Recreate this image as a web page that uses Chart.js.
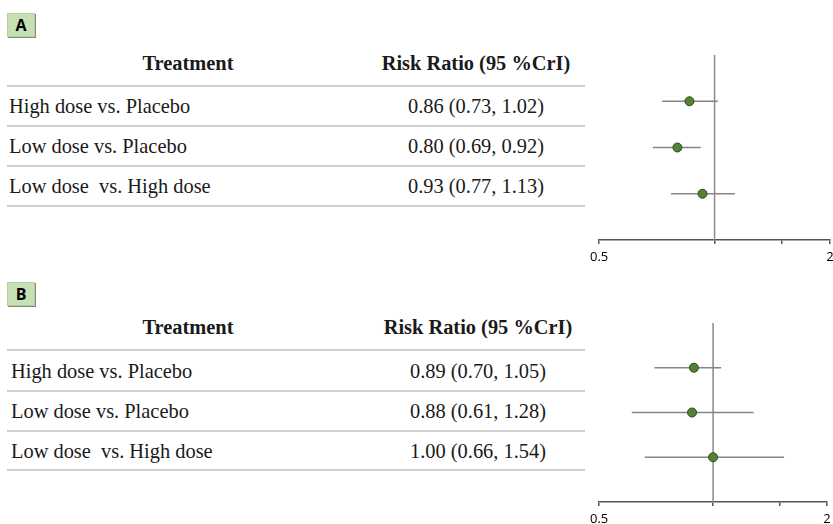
<!DOCTYPE html>
<html lang="en">
<head>
    <meta charset="UTF-8">
    <title>Risk Ratio forest plots</title>
    <script src="https://cdn.jsdelivr.net/npm/chart.js"></script>
    <style>
        * { margin: 0; padding: 0; box-sizing: border-box; }
        body {
            width: 833px;
            height: 524px;
            overflow: hidden;
            background: #fff;
            position: relative;
            font-family: "Liberation Serif", "Times New Roman", serif;
            color: #1a1a1a;
        }
        .tag {
            position: absolute;
            left: 7px;
            width: 28px;
            height: 24px;
            background: #c6e0b4;
            border: 1px solid #b4cfa2;
            box-shadow: 1px 1px 0 #7f8c77;
            font-family: "Open Sans", "Liberation Sans", sans-serif;
            font-weight: bold;
            font-size: 16px;
            text-align: center;
            line-height: 22px;
            color: #000;
        }
        .txt {
            position: absolute;
            font-size: 20.4px;
            line-height: 24px;
            white-space: pre;
        }
        .head { font-weight: bold; }
        .rule {
            position: absolute;
            left: 7px;
            width: 578px;
            height: 2px;
            background: #cfcfcf;
        }
        .plot {
            position: absolute;
            left: 585px;
            width: 255px;
        }
    </style>
</head>
<body>
    <div id="page"></div>
    <div class="plot" id="boxA" style="top:45px;height:225px"><canvas id="chartA"></canvas></div>
    <div class="plot" id="boxB" style="top:313px;height:219px"><canvas id="chartB"></canvas></div>

    <script>
        // data
        const rowLabels = ['High dose vs. Placebo', 'Low dose vs. Placebo', 'Low dose  vs. High dose'];
        const rrA = [0.86, 0.80, 0.93];
        const loA = [0.73, 0.69, 0.77];
        const hiA = [1.02, 0.92, 1.13];
        const rrB = [0.89, 0.88, 1.00];
        const loB = [0.70, 0.61, 0.66];
        const hiB = [1.05, 1.28, 1.54];
        const xTicks = [0.5, 1, 1.5, 2];
        const xTickLabels = ['0.5', '', '', '2'];
        const refLine = 1;

        const page = document.getElementById('page');

        function addText(cls, text, x, cy, align) {
            const d = document.createElement('div');
            d.className = cls;
            d.textContent = text;
            d.style.top = (cy - 12) + 'px';
            if (align === 'center') {
                d.style.left = (x - 200) + 'px';
                d.style.width = '400px';
                d.style.textAlign = 'center';
            } else {
                d.style.left = x + 'px';
            }
            page.appendChild(d);
        }

        function addRule(y) {
            const d = document.createElement('div');
            d.className = 'rule';
            d.style.top = (y - 1) + 'px';
            page.appendChild(d);
        }

        function buildTable(tag, tagTop, headY, rules, rowY, textX, colX, rr, lo, hi) {
            const t = document.createElement('div');
            t.className = 'tag';
            t.style.top = tagTop + 'px';
            t.textContent = tag;
            page.appendChild(t);

            addText('txt head', 'Treatment', 188, headY, 'center');
            addText('txt head', 'Risk Ratio (95 %CrI)', colX, headY, 'center');
            rules.forEach(addRule);
            rowLabels.forEach((lab, i) => {
                addText('txt', lab, textX, rowY[i], 'left');
                addText('txt', `${rr[i].toFixed(2)} (${lo[i].toFixed(2)}, ${hi[i].toFixed(2)})`, colX, rowY[i], 'center');
            });
        }

        buildTable('A', 13, 63, [86, 126, 166, 206], [106, 146, 186], 9, 476, rrA, loA, hiA);
        buildTable('B', 282, 327, [350, 391, 431, 470], [371, 411, 451], 11, 478, rrB, loB, hiB);

        function forest(id, rr, lo, hi, padLeft, padRight) {
            const n = rr.length;
            const datasets = [
                {
                    type: 'scatter',
                    data: rr.map((v, i) => ({ x: v, y: i + 1 })),
                    pointRadius: 4.5,
                    pointBackgroundColor: '#548235',
                    pointBorderColor: '#2f4a1c',
                    pointBorderWidth: 1,
                    order: 0
                }
            ];
            rr.forEach((v, i) => {
                datasets.push({
                    type: 'line',
                    data: [{ x: lo[i], y: i + 1 }, { x: hi[i], y: i + 1 }],
                    borderColor: '#858585',
                    borderWidth: 1.5,
                    pointRadius: 0,
                    order: 1
                });
            });
            // reference line at RR = 1
            datasets.push({
                type: 'line',
                data: [{ x: refLine, y: 0 }, { x: refLine, y: n + 1 }],
                borderColor: '#8a8a8a',
                borderWidth: 1.5,
                pointRadius: 0,
                order: 2
            });

            return new Chart(document.getElementById(id), {
                type: 'scatter',
                data: { datasets: datasets },
                options: {
                    responsive: true,
                    maintainAspectRatio: false,
                    animation: false,
                    layout: { padding: { top: 10, left: padLeft, right: padRight, bottom: 0 } },
                    plugins: { legend: { display: false }, tooltip: { enabled: false } },
                    scales: {
                        x: {
                            type: 'logarithmic',
                            min: xTicks[0],
                            max: xTicks[xTicks.length - 1],
                            afterBuildTicks: s => { s.ticks = xTicks.map(v => ({ value: v })); },
                            afterFit: s => { s.height = 30; },
                            grid: { drawOnChartArea: false, drawTicks: true, tickLength: 4, color: '#555', lineWidth: 1.5 },
                            border: { display: true, color: '#555', width: 1.5 },
                            ticks: {
                                autoSkip: false,
                                maxRotation: 0,
                                padding: 5,
                                color: '#000',
                                font: { family: 'Open Sans', size: 13 },
                                callback: (v, i) => xTickLabels[i]
                            }
                        },
                        y: {
                            display: false,
                            reverse: true,
                            min: 0,
                            max: n + 1
                        }
                    }
                }
            });
        }

        forest('chartA', rrA, loA, hiA, 14, 10);
        forest('chartB', rrB, loB, hiB, 11, 13);
    </script>
</body>
</html>
